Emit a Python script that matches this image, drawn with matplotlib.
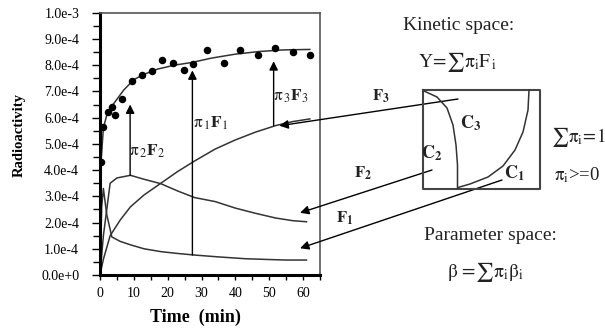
import numpy as np
import matplotlib
matplotlib.use('Agg')
import matplotlib.pyplot as plt
from matplotlib.ticker import MultipleLocator, FuncFormatter

plt.rcParams['font.family'] = 'serif'
plt.rcParams['font.serif'] = ['Liberation Serif', 'DejaVu Serif']
plt.rcParams['mathtext.fontset'] = 'stix'

# ---- data (values in units of 1e-4) ----
obs_t = [0.2, 0.8, 2.5, 3.4, 4.4, 6.4, 9.6, 12.3, 15.3, 18.4, 21.5, 24.9, 27.5,
         31.6, 36.5, 41.4, 46.8, 51.6, 57.0, 61.9]
obs_v = [4.29, 5.66, 6.23, 6.42, 6.1, 6.72, 7.4, 7.63, 7.76, 8.2, 8.08, 7.82, 8.06,
         8.59, 8.08, 8.56, 8.4, 8.65, 8.52, 8.4]

fit_t = [0.3, 1, 2, 3, 5, 7, 10, 13, 17, 22, 27, 33, 40, 47, 54, 62]
fit_v = [4.3, 5.6, 6.1, 6.35, 6.7, 7.05, 7.45, 7.65, 7.85, 8.0, 8.1, 8.27, 8.42, 8.52, 8.58, 8.6]

f1_t = [0, 0.5, 1, 2, 3.5, 6, 9, 13, 18, 23, 28, 35, 43, 50, 55, 61]
f1_v = [0, 2.6, 3.3, 2.3, 1.45, 1.28, 1.15, 1.0, 0.89, 0.82, 0.76, 0.69, 0.62, 0.59, 0.57, 0.57]

f2_t = [0, 1, 3, 5, 9, 13, 18, 23, 28, 34, 40, 46, 52, 57, 61]
f2_v = [0, 1.5, 3.5, 3.7, 3.8, 3.65, 3.48, 3.2, 2.95, 2.8, 2.55, 2.35, 2.17, 2.07, 2.03]

f3_t = [0, 1, 3, 6, 9, 13, 18, 23, 28, 34, 40, 46, 52, 57, 62]
f3_v = [0, 0.6, 1.5, 2.1, 2.6, 3.05, 3.5, 3.95, 4.35, 4.8, 5.15, 5.45, 5.7, 5.85, 5.95]

# vertical pi*F arrows
pi_t = [8.9, 27.3, 51.3]
pi_base = [3.8, 0.76, 5.7]
pi_tip = [6.5, 7.8, 8.15]
pi_labels = [r'$\mathrm{\pi}_{\,2}\mathbf{F}_{2}$', r'$\mathrm{\pi}_{\,1}\mathbf{F}_{1}$',
             r'$\mathrm{\pi}_{\,3}\mathbf{F}_{3}$']
pi_label_t = [8.6, 27.6, 51.2]
pi_label_v = [4.7, 5.8, 6.8]

# arrows from the simplex to the kinetic curves
comp_tip_t = [53.0, 59.1, 59.1]
comp_tip_v = [5.69, 2.37, 1.02]

scale = 1e-4

fig = plt.figure(figsize=(6.05, 3.34), dpi=100)
ax = fig.add_axes([100 / 605, 1 - 275 / 334, 220 / 605, 262.3 / 334])

ink = '#333333'
ax.plot(f1_t, np.array(f1_v) * scale, '-', color=ink, lw=1.1)
ax.plot(f2_t, np.array(f2_v) * scale, '-', color=ink, lw=1.1)
ax.plot(f3_t, np.array(f3_v) * scale, '-', color=ink, lw=1.1)
ax.plot(fit_t, np.array(fit_v) * scale, '-', color=ink, lw=1.1)
ax.plot(obs_t, np.array(obs_v) * scale, 'o', color='black', markersize=4.4)

for t, b, tp in zip(pi_t, pi_base, pi_tip):
    ax.annotate('', xy=(t, tp * scale), xytext=(t, b * scale),
                arrowprops=dict(arrowstyle='-|>', color='black', lw=1.0,
                                mutation_scale=13, shrinkA=0, shrinkB=0))
for lab, t, v in zip(pi_labels, pi_label_t, pi_label_v):
    ax.text(t, v * scale, lab, fontsize=12.5, ha='left', va='center', color='#222222')

ax.set_xlim(0, 65)
ax.set_ylim(0, 1e-3)
ax.xaxis.set_major_locator(MultipleLocator(10))
ax.xaxis.set_minor_locator(MultipleLocator(5))
ax.yaxis.set_major_locator(MultipleLocator(1e-4))
ax.yaxis.set_minor_locator(MultipleLocator(5e-5))


def sci(v, pos):
    m, e = f'{v:.1e}'.split('e')
    return f'{m}e{int(e):+d}' if int(e) == 0 else f'{m}e{int(e)}'


ax.yaxis.set_major_formatter(FuncFormatter(sci))
ax.xaxis.set_major_formatter(FuncFormatter(lambda v, p: f'{int(v)}' if v <= 60 else ''))
ax.tick_params(axis='y', which='major', direction='out', length=6, width=1, pad=9, labelsize=10)
ax.tick_params(axis='y', which='minor', direction='out', length=5, width=1)
ax.tick_params(axis='x', which='both', direction='out', length=3.5, width=1, pad=5, labelsize=10)

ax.spines['left'].set_linewidth(2.2)
ax.spines['bottom'].set_linewidth(2.2)
for s in ['top', 'right']:
    ax.spines[s].set_linewidth(1.2)
    ax.spines[s].set_color('#555555')

ax.set_ylabel('Radioactivity', fontsize=10.5, fontweight='bold')
ax.yaxis.set_label_coords(-0.338, 0.534)
ax.set_xlabel('Time  (min)', fontsize=13, fontweight='bold')
ax.xaxis.set_label_coords(0.432, -0.13)

# ---- right-hand schematic, in picture pixel units ----
ov = fig.add_axes([0, 0, 1, 1])
ov.set_xlim(0, 605)
ov.set_ylim(334, 0)
ov.axis('off')

box_x = [423, 540, 540, 423, 423]
box_y = [90, 90, 189, 189, 90]
ov.plot(box_x, box_y, '-', color='#444444', lw=1.5)

c23_x = [424, 437, 447, 453, 456, 457.5, 457.5]
c23_y = [91, 97, 108, 125, 145, 165, 188]
c31_x = [529, 528, 523, 515, 503, 488, 470, 458]
c31_y = [90, 110, 132, 150, 166, 177, 184, 187.5]
ov.plot(c23_x, c23_y, '-', color=ink, lw=1.1)
ov.plot(c31_x, c31_y, '-', color=ink, lw=1.1)

tail_x = [458, 432, 502]
tail_y = [99, 170, 180]
for tx, ty, t, v in zip(tail_x, tail_y, comp_tip_t, comp_tip_v):
    ax.annotate('', xy=(t, v * scale), xycoords='data',
                xytext=(tx, ty), textcoords=ov.transData, annotation_clip=False,
                arrowprops=dict(arrowstyle='-|>', color='black', lw=1.0,
                                mutation_scale=13, shrinkA=0, shrinkB=0))

txt = '#222222'
ov.text(459, 25, 'Kinetic space:', fontsize=14, ha='center', va='center', color=txt)
ov.text(458, 62, r'$\mathrm{Y\!=\!\sum\pi_i F_{\,i}}$', fontsize=14, ha='center', va='center', color=txt)
ov.text(381, 96, r'$\mathbf{F}_{\mathbf{3}}$', fontsize=12, ha='center', va='center', color=txt)
ov.text(363, 173, r'$\mathbf{F}_{\mathbf{2}}$', fontsize=12, ha='center', va='center', color=txt)
ov.text(345, 218, r'$\mathbf{F}_{\mathbf{1}}$', fontsize=12, ha='center', va='center', color=txt)
ov.text(471, 123, r'$\mathbf{C}_{\mathbf{3}}$', fontsize=13, ha='center', va='center', color=txt)
ov.text(432, 153, r'$\mathbf{C}_{\mathbf{2}}$', fontsize=13, ha='center', va='center', color=txt)
ov.text(514, 173, r'$\mathbf{C}_{\mathbf{1}}$', fontsize=13, ha='center', va='center', color=txt)
ov.text(578, 137, r'$\mathrm{\sum\pi_i\!=\!1}$', fontsize=13.5, ha='center', va='center', color=txt)
ov.text(577, 175, r'$\mathrm{\pi_i}$>=0', fontsize=13.5, ha='center', va='center', color=txt)
ov.text(490, 235, 'Parameter space:', fontsize=14, ha='center', va='center', color=txt)
ov.text(485, 272, r'$\mathrm{\beta\ \!=\!\sum\pi_i\beta_i}$', fontsize=14, ha='center', va='center', color=txt)

fig.savefig('out.png', dpi=100)
